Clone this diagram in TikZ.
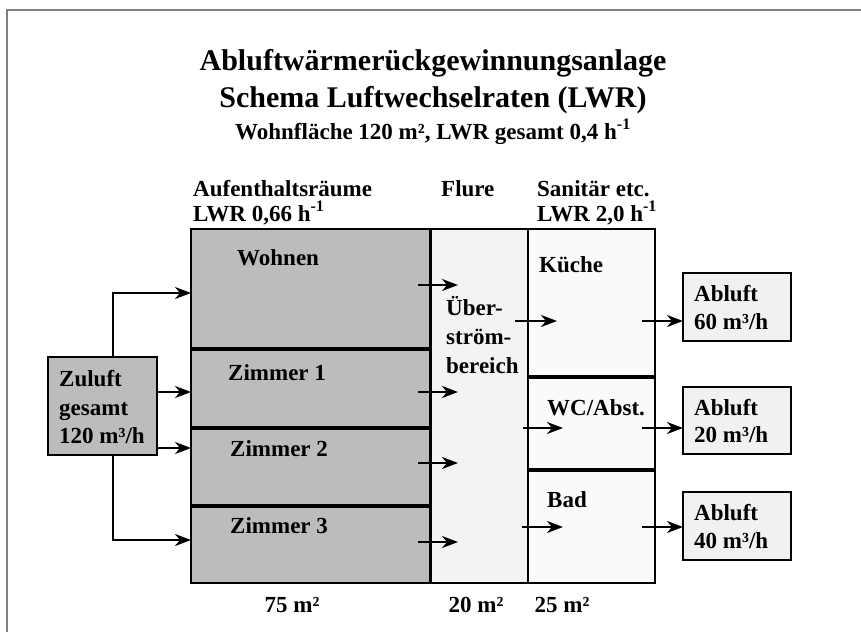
\documentclass[tikz,border=0pt]{standalone}
\usepackage{fontspec}
\setmainfont{Liberation Serif}
\usetikzlibrary{arrows.meta,calc}
\definecolor{gblock}{HTML}{BCBCBC}
\definecolor{flurefill}{HTML}{F3F3F3}
\definecolor{sanfill}{HTML}{FAFAFA}
\definecolor{ablfill}{HTML}{F1F1F1}
\definecolor{framegray}{HTML}{808080}
\begin{document}
\begin{tikzpicture}[x=1pt,y=-1pt,
  rbox/.style={draw=black, line width=2.6pt, inner sep=0pt, outer sep=0pt, anchor=north west},
  divider/.style={draw=black, line width=4pt},
  lbl/.style={font=\fontsize{23}{27}\selectfont\bfseries, inner sep=0pt, anchor=base west},
  ttl/.style={font=\fontsize{30}{36}\selectfont\bfseries, inner sep=0pt, anchor=base},
  sttl/.style={font=\fontsize{23}{27}\selectfont\bfseries, inner sep=0pt, anchor=base},
  arr/.style={draw=black, line width=2.2pt, -{Stealth[length=16pt,width=12pt,inset=5pt]}}]
\useasboundingbox (0,0) rectangle (861,632);
\fill[white] (0,0) rectangle (861,632);
\draw[framegray, line width=2pt] (6.5,632) -- (6.5,10) -- (861,10);

% titles
\node[ttl] (t1) at (433,70) {Abluftwärmerückgewinnungsanlage};
\node[ttl] (t2) at (433,107) {Schema Luftwechselraten (LWR)};
\node[sttl] (t3) at (433,139) {Wohnfläche 120 m², LWR gesamt 0,4 h\textsuperscript{-1}};

% headers
\node[lbl] (h1) at (193,196) {Aufenthaltsräume};
\node[lbl] (h1b) at (193,221) {LWR 0,66 h\textsuperscript{-1}};
\node[lbl] (h2) at (441,196) {Flure};
\node[lbl] (h3) at (537,196) {Sanitär etc.};
\node[lbl] (h3b) at (537,221) {LWR 2,0 h\textsuperscript{-1}};

% boxes
\node[rbox, fill=gblock, minimum width=239pt, minimum height=120pt] (wohnen) at (191,229) {};
\node[rbox, fill=gblock, minimum width=239pt, minimum height=79pt] (zimmer1) at (191,349) {};
\node[rbox, fill=gblock, minimum width=239pt, minimum height=78pt] (zimmer2) at (191,428) {};
\node[rbox, fill=gblock, minimum width=239pt, minimum height=77pt] (zimmer3) at (191,506) {};
\node[rbox, fill=flurefill, minimum width=97pt, minimum height=354pt] (flure) at (431,229) {};
\node[rbox, fill=sanfill, minimum width=127pt, minimum height=148pt] (kueche) at (528,229) {};
\node[rbox, fill=sanfill, minimum width=127pt, minimum height=93pt] (wc) at (528,377) {};
\node[rbox, fill=sanfill, minimum width=127pt, minimum height=113pt] (bad) at (528,470) {};
\node[rbox, fill=ablfill, minimum width=108pt, minimum height=68pt] (abluft1) at (683,273) {};
\node[rbox, fill=ablfill, minimum width=108pt, minimum height=67pt] (abluft2) at (683,387) {};
\node[rbox, fill=ablfill, minimum width=108pt, minimum height=68pt] (abluft3) at (683,492) {};
\node[rbox, fill=gblock, minimum width=109pt, minimum height=98pt] (zuluft) at (48,357) {};

% dividers
\draw[divider] (wohnen.south west) -- (wohnen.south east);
\draw[divider] (zimmer1.south west) -- (zimmer1.south east);
\draw[divider] (zimmer2.south west) -- (zimmer2.south east);
\draw[divider] (kueche.south west) -- (kueche.south east);
\draw[divider] (wc.south west) -- (wc.south east);

% labels
\node[lbl] (lw) at (237,265) {Wohnen};
\node[lbl] (lz1) at (228,380) {Zimmer 1};
\node[lbl] (lz2) at (230,456) {Zimmer 2};
\node[lbl] (lz3) at (230,533) {Zimmer 3};
\node[lbl] (lf1) at (446,315) {Über-};
\node[lbl] (lf2) at (446,344) {ström-};
\node[lbl] (lf3) at (446,373) {bereich};
\node[lbl] (lk) at (539,272) {Küche};
\node[lbl] (lwc) at (547,415) {WC/Abst.};
\node[lbl] (lb) at (547,507) {Bad};
\node[lbl] (la1a) at (694,301) {Abluft};
\node[lbl] (la1b) at (694,329) {60 m³/h};
\node[lbl] (la2a) at (694,415) {Abluft};
\node[lbl] (la2b) at (694,442) {20 m³/h};
\node[lbl] (la3a) at (694,520) {Abluft};
\node[lbl] (la3b) at (694,548) {40 m³/h};
\node[lbl] (lz) at (59,386) {Zuluft};
\node[lbl] (lzb) at (59,415) {gesamt};
\node[lbl] (lzc) at (59,443) {120 m³/h};

% areas
\node[lbl, anchor=base] (a1) at (292,612) {75 m²};
\node[lbl, anchor=base] (a2) at (476,612) {20 m²};
\node[lbl, anchor=base] (a3) at (562,612) {25 m²};

% supply arrows
\draw[arr] ($(zuluft.north)+(10.5,0)$) |- (wohnen.west |- 0,293);
\draw[arr] (zuluft.east |- 0,392) -- (zimmer1.west |- 0,392);
\draw[arr] (zuluft.east |- 0,448) -- (zimmer2.west |- 0,448);
\draw[arr] ($(zuluft.south)+(10.5,0)$) |- (zimmer3.west |- 0,540);

% rooms to corridor
\draw[arr] ($(wohnen.east |- 0,285)+(-12,0)$) -- ($(flure.west |- 0,285)+(27,0)$);
\draw[arr] ($(zimmer1.east |- 0,392)+(-12,0)$) -- ($(flure.west |- 0,392)+(27,0)$);
\draw[arr] ($(zimmer2.east |- 0,463)+(-12,0)$) -- ($(flure.west |- 0,463)+(27,0)$);
\draw[arr] ($(zimmer3.east |- 0,542)+(-12,0)$) -- ($(flure.west |- 0,542)+(27,0)$);

% corridor to sanitary
\draw[arr] ($(flure.east |- 0,321)+(-13,0)$) -- ($(kueche.west |- 0,321)+(29,0)$);
\draw[arr] ($(flure.east |- 0,428)+(-5,0)$) -- ($(wc.west |- 0,428)+(35,0)$);
\draw[arr] ($(flure.east |- 0,527)+(-6,0)$) -- ($(bad.west |- 0,527)+(35,0)$);

% sanitary to exhaust
\draw[arr] ($(kueche.east |- 0,321)+(-13,0)$) -- (abluft1.west |- 0,321);
\draw[arr] ($(wc.east |- 0,428)+(-13,0)$) -- (abluft2.west |- 0,428);
\draw[arr] ($(bad.east |- 0,527)+(-13,0)$) -- (abluft3.west |- 0,527);
\end{tikzpicture}
\end{document}
